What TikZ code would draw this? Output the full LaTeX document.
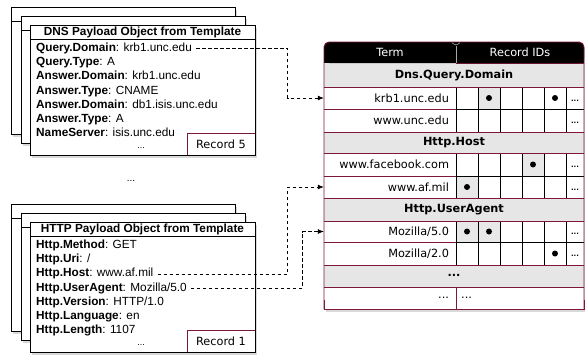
\documentclass[tikz,border=0pt]{standalone}
\usepackage{fontspec}
\setmainfont{Liberation Sans}
\newfontfamily\lucida{DejaVu Sans}
\usetikzlibrary{arrows.meta,shadows}
\definecolor{maroon}{RGB}{125,25,55}
\definecolor{secgray}{RGB}{230,230,230}
\definecolor{cellgray}{RGB}{232,232,232}
\begin{document}
\begin{tikzpicture}[x=1pt,y=-1pt,
  sheet/.style={draw=black,fill=white,line width=0.9pt,drop shadow={opacity=0.3,shadow xshift=2pt,shadow yshift=-2.5pt}},
  field/.style={anchor=base west,inner sep=1pt,font=\fontsize{11.8}{14}\selectfont},
  boxtitle/.style={font=\fontsize{11.8}{14}\selectfont\bfseries,inner sep=0pt},
  recbox/.style={font=\lucida\fontsize{11.3}{13}\selectfont,inner sep=0pt},
  term/.style={font=\lucida\fontsize{11.3}{13}\selectfont,text width=118pt,align=right,inner xsep=7pt,inner ysep=0pt,minimum height=22pt},
  hdr/.style={font=\lucida\fontsize{11.3}{13}\selectfont,text=white,inner sep=0pt},
  sect/.style={font=\lucida\bfseries\fontsize{11.3}{13}\selectfont,inner sep=0pt},
  more/.style={font=\lucida\bfseries\fontsize{7}{8}\selectfont,inner sep=0pt},
  conn/.style={dash pattern=on 3.5pt off 2.5pt,line width=0.7pt,-{Latex[length=6pt,width=5pt]},shorten <=3pt},
  cellline/.style={line width=1pt,black},
  rowline/.style={line width=0.9pt,maroon}]
\useasboundingbox (0,0) rectangle (585,356);

% ---------- DNS stack ----------
\draw[sheet] (11,7) rectangle (235,134);
\draw[line width=0.9pt] (11,21) -- (235,21);
\draw[sheet] (21,16) rectangle (245,143);
\draw[line width=0.9pt] (21,30) -- (245,30);
\draw[sheet] (30,25) rectangle (255,155);
\draw[line width=0.9pt] (30,39) -- (255,39);
\node[boxtitle] (dnst) at (142.5,32.5) {DNS Payload Object from Template};
\node[field] (qd) at (35,51.5) {\textbf{Query.Domain}: krb1.unc.edu};
\node[field] (qt) at (35,65.7) {\textbf{Query.Type}: A};
\node[field] (ad1) at (35,79.9) {\textbf{Answer.Domain}: krb1.unc.edu};
\node[field] (at1) at (35,94.1) {\textbf{Answer.Type}: CNAME};
\node[field] (ad2) at (35,108.3) {\textbf{Answer.Domain}: db1.isis.unc.edu};
\node[field] (at2) at (35,122.5) {\textbf{Answer.Type}: A};
\node[field] (ns) at (35,136.7) {\textbf{NameServer}: isis.unc.edu};
\node[inner sep=0pt,font=\fontsize{9}{10}\selectfont] (dnsdots) at (141,148.5) {...};
\draw[maroon,line width=0.9pt] (187,155) -- (187,133) -- (255,133);
\node[recbox] (rec5) at (221,144.5) {Record 5};

\node[inner sep=0pt,font=\fontsize{10}{10}\selectfont] (middots) at (131,181) {...};

% ---------- HTTP stack ----------
\draw[sheet] (11,204) rectangle (235,331);
\draw[line width=0.9pt] (11,218) -- (235,218);
\draw[sheet] (21,213) rectangle (245,340);
\draw[line width=0.9pt] (21,227) -- (245,227);
\draw[sheet] (30,222) rectangle (255,352);
\draw[line width=0.9pt] (30,236) -- (255,236);
\node[boxtitle] (httpt) at (142.5,229.5) {HTTP Payload Object from Template};
\node[field] (hm) at (35,248.5) {\textbf{Http.Method}: GET};
\node[field] (hu) at (35,262.7) {\textbf{Http.Uri}: /};
\node[field] (hh) at (35,276.9) {\textbf{Http.Host}: www.af.mil};
\node[field] (hua) at (35,291.1) {\textbf{Http.UserAgent}: Mozilla/5.0};
\node[field] (hv) at (35,305.3) {\textbf{Http.Version}: HTTP/1.0};
\node[field] (hl) at (35,319.5) {\textbf{Http.Language}: en};
\node[field] (hlen) at (35,333.7) {\textbf{Http.Length}: 1107};
\node[inner sep=0pt,font=\fontsize{9}{10}\selectfont] (httpdots) at (141,345.5) {...};
\draw[maroon,line width=0.9pt] (187,352) -- (187,330) -- (255,330);
\node[recbox] (rec1) at (221,341.5) {Record 1};

% ---------- Table ----------
\path[fill=white,drop shadow={opacity=0.3,shadow xshift=2pt,shadow yshift=-3pt}] (324,45) rectangle (584,309);
% section rows
\fill[secgray] (324,63) rectangle (584,87);
\fill[secgray] (324,132) rectangle (584,153);
\fill[secgray] (324,198) rectangle (584,221);
\fill[secgray] (324,265) rectangle (584,287);
% gray cells
\fill[cellgray] (478,87) rectangle (500,109);
\fill[cellgray] (522,153) rectangle (544,176);
\fill[cellgray] (456,176) rectangle (478,198);
\fill[cellgray] (456,221) rectangle (500,242);
% record grid
\foreach \ya/\yb in {87/132,153/198,221/265}{
  \foreach \x in {456,478,500,522,544,566}{\draw[cellline] (\x,\ya) -- (\x,\yb);}
}
\foreach \y in {109,176,242}{\draw[cellline] (456,\y) -- (584,\y);}
% maroon row lines
\foreach \y in {87,109,132,153,176,198,221,242,265,287}{\draw[rowline] (324,\y) -- (456,\y);}
\foreach \y in {63,87,132,153,198,221,265,287}{\draw[rowline] (456,\y) -- (584,\y);}
\draw[rowline] (456,287) -- (456,309);
% dots
\foreach \cx/\cy in {489/98,555/98,533/164.5,467/187,467/231.5,489/231.5,555/253.5}{\fill (\cx,\cy) circle (3pt);}
\foreach \cy in {98,120.5,164.5,187,231.5,253.5}{\node[more] at (575,\cy+2.5) {...};}
% header
\fill[black,rounded corners=5pt] (324,42) rectangle (584,63);
\fill[black] (324,53) rectangle (584,63);
\draw[gray!70,line width=0.6pt,rounded corners=3pt] (452,42.5) -- (456,46) -- (460,42.5);
\draw[gray!70,line width=0.6pt] (456,46) -- (456,63);
\node[hdr] (hterm) at (390,52.5) {Term};
\node[hdr] (hrec) at (520,52.5) {Record IDs};
% section titles
\node[sect] (s1) at (454,75) {Dns.Query.Domain};
\node[sect] (s2) at (454,142.5) {Http.Host};
\node[sect] (s3) at (454,209.5) {Http.UserAgent};
\node[sect] (s4) at (454,275) {...};
% terms
\node[term] (krb) at (390,98) {krb1.unc.edu};
\node[term] (wunc) at (390,120.5) {www.unc.edu};
\node[term] (fb) at (390,164.5) {www.facebook.com};
\node[term] (af) at (390,187) {www.af.mil};
\node[term] (m5) at (390,231.5) {Mozilla/5.0};
\node[term] (m2) at (390,253.5) {Mozilla/2.0};
\node[term] (lt) at (390,298) {...};
\node[term,anchor=west,text width=100pt,align=left,inner xsep=5pt] (lr) at (456,298) {...};
% outline
\draw[maroon,line width=0.9pt,rounded corners=5pt] (324,309) -- (324,42) -- (584,42) -- (584,309);
\draw[maroon,line width=0.9pt] (324,300) -- (324,309) -- (584,309) -- (584,300);

% ---------- connectors ----------
\draw[conn] (qd.east) -| ([xshift=-36pt]krb.west) -- (krb.west);
\draw[conn] (hh.east) -| ([xshift=-36pt]af.west) -- (af.west);
\draw[conn] (hua.east) -| ([xshift=-21pt]m5.west) -- (m5.west);
\end{tikzpicture}
\end{document}
